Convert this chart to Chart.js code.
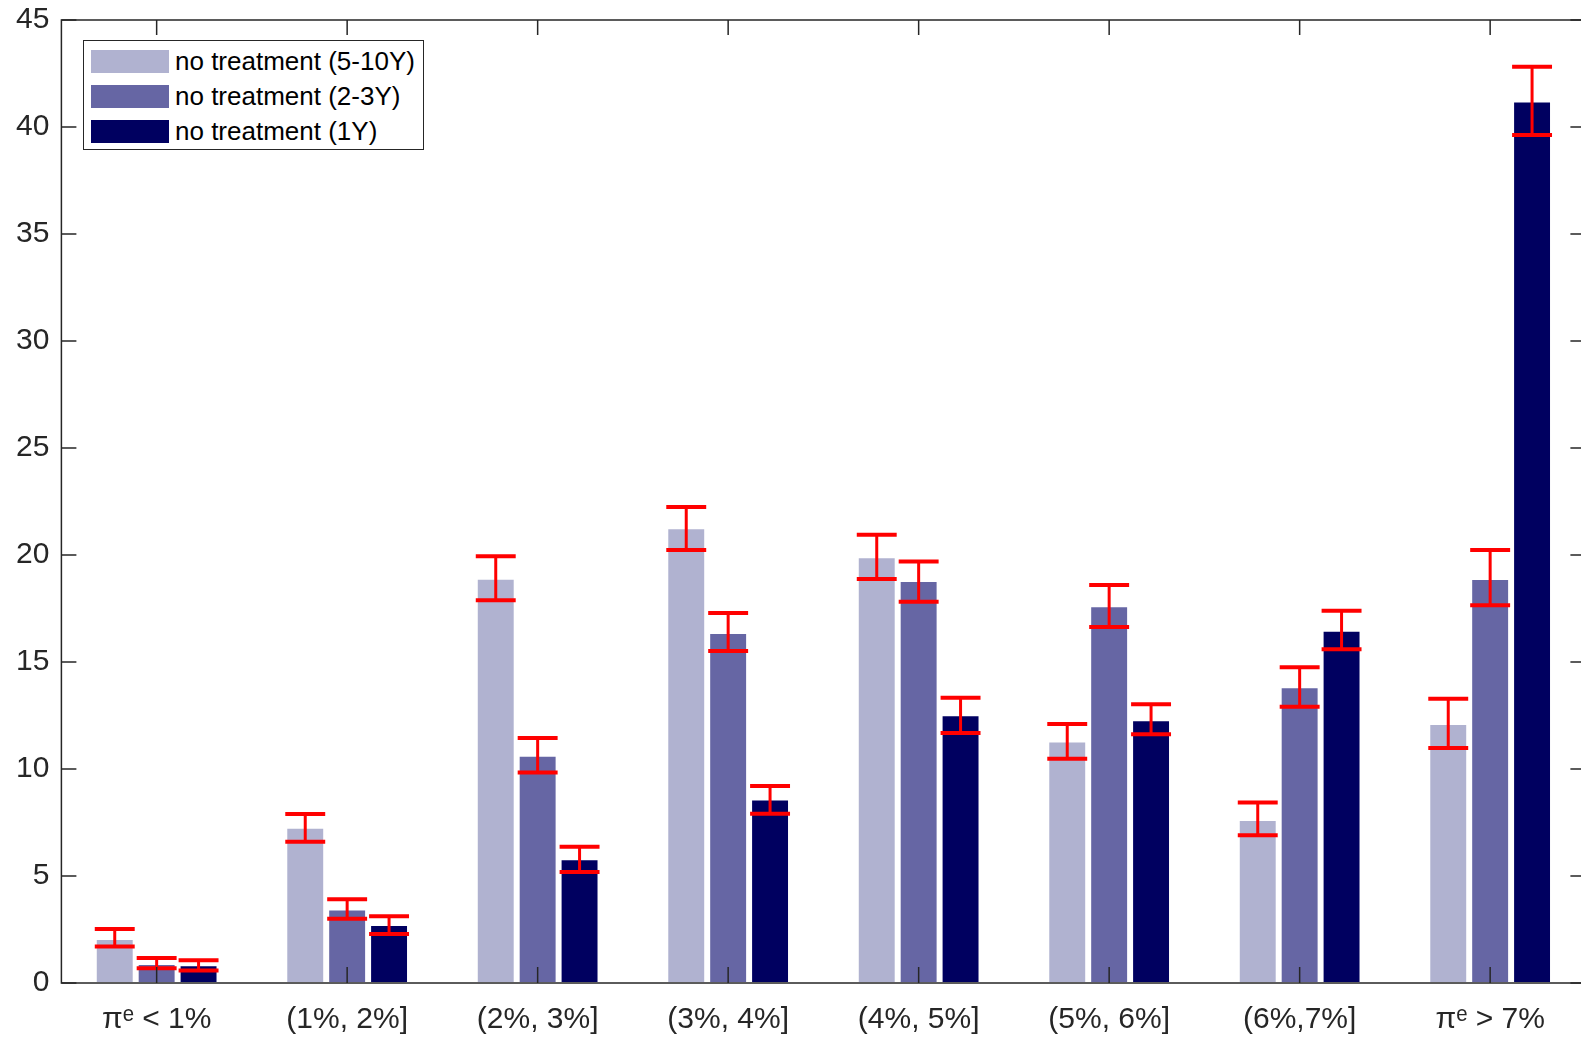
<!DOCTYPE html>
<html lang="en">
<head>
    <meta charset="UTF-8">
    <title>No treatment – inflation expectations</title>
    <script src="https://cdn.jsdelivr.net/npm/chart.js"></script>
    <style>
        body {
            margin: 0;
            overflow: hidden;
            background: #fff;
            font-family: "Liberation Sans", Arial, sans-serif;
        }
        #wrap {
            position: relative;
            width: 1600px;
            height: 1041px;
        }
        #legend {
            position: absolute;
            left: 83px;
            top: 40px;
            width: 341px;
            height: 110px;
            border: 1px solid #262626;
            background: #fff;
            box-sizing: border-box;
        }
        .row {
            position: absolute;
            left: 7px;
            height: 24px;
            display: flex;
            align-items: center;
            font-size: 26px;
            color: #000;
            white-space: nowrap;
        }
        .swatch {
            width: 78px;
            height: 23px;
            margin-right: 6px;
        }
    </style>
</head>
<body>
<div id="wrap">
    <canvas id="chart" width="1600" height="1041"></canvas>
    <div id="legend"></div>
</div>

<script>
    // categories (x axis)
    const categories = ['πᵉ < 1%', '(1%, 2%]', '(2%, 3%]', '(3%, 4%]', '(4%, 5%]', '(5%, 6%]', '(6%,7%]', 'πᵉ > 7%'];
    const yTicks = [0, 5, 10, 15, 20, 25, 30, 35, 40, 45];

    // series
    const seriesNames = ['no treatment (5-10Y)', 'no treatment (2-3Y)', 'no treatment (1Y)'];
    const seriesColors = ['#b0b2d0', '#6666a4', '#000060'];

    const long5to10 = [2.06, 7.26, 18.89, 21.25, 19.89, 11.28, 7.62, 12.10];
    const mid2to3   = [0.89, 3.43, 10.62, 16.36, 18.79, 17.60, 13.82, 18.88];
    const short1y   = [0.83, 2.71, 5.78, 8.57, 12.51, 12.28, 16.46, 41.19];

    // error bar ends
    const long5to10Low  = [1.70, 6.60, 17.88, 20.23, 18.88, 10.48, 6.90, 10.98];
    const long5to10High = [2.52, 7.90, 19.94, 22.24, 20.95, 12.10, 8.43, 13.28];
    const mid2to3Low    = [0.69, 3.00, 9.84, 15.51, 17.82, 16.64, 12.91, 17.65];
    const mid2to3High   = [1.17, 3.91, 11.45, 17.29, 19.70, 18.60, 14.75, 20.23];
    const short1yLow    = [0.58, 2.29, 5.19, 7.91, 11.68, 11.62, 15.59, 39.63];
    const short1yHigh   = [1.06, 3.12, 6.37, 9.21, 13.33, 13.02, 17.40, 42.82];

    const values = [long5to10, mid2to3, short1y];
    const lows = [long5to10Low, mid2to3Low, short1yLow];
    const highs = [long5to10High, mid2to3High, short1yHigh];

    const axisColor = '#262626';

    // red error bars plus the MATLAB-style box with inward ticks
    const errorAndBox = {
        id: 'errorAndBox',
        afterDatasetsDraw(chart) {
            const ctx = chart.ctx;
            const a = chart.chartArea;
            const x = chart.scales.x, y = chart.scales.y;
            ctx.save();
            ctx.strokeStyle = '#ff0000';
            chart.data.datasets.forEach((ds, di) => {
                chart.getDatasetMeta(di).data.forEach((bar, i) => {
                    const lo = y.getPixelForValue(ds.errLow[i]);
                    const hi = y.getPixelForValue(ds.errHigh[i]);
                    const half = bar.width / 2 + 1;
                    ctx.lineWidth = 3;
                    ctx.beginPath();
                    ctx.moveTo(bar.x, lo);
                    ctx.lineTo(bar.x, hi);
                    ctx.stroke();
                    ctx.lineWidth = 4;
                    ctx.beginPath();
                    ctx.moveTo(bar.x - half, lo); ctx.lineTo(bar.x + half, lo);
                    ctx.moveTo(bar.x - half, hi); ctx.lineTo(bar.x + half, hi);
                    ctx.stroke();
                });
            });

            ctx.strokeStyle = axisColor;
            ctx.lineWidth = 1.5;
            ctx.strokeRect(a.left, a.top, a.right - a.left, a.bottom - a.top);
            ctx.beginPath();
            categories.forEach((c, i) => {
                const px = x.getPixelForValue(i);
                ctx.moveTo(px, a.bottom); ctx.lineTo(px, a.bottom - 16);
                ctx.moveTo(px, a.top); ctx.lineTo(px, a.top + 15);
            });
            yTicks.forEach(v => {
                const py = y.getPixelForValue(v);
                ctx.moveTo(a.left, py); ctx.lineTo(a.left + 15, py);
                ctx.moveTo(a.right, py); ctx.lineTo(a.right - 15, py);
            });
            ctx.stroke();
            ctx.restore();
        }
    };

    const datasets = values.map((v, i) => ({
        label: seriesNames[i],
        data: v,
        errLow: lows[i],
        errHigh: highs[i],
        backgroundColor: seriesColors[i],
        borderColor: 'rgba(255,255,255,0.45)',
        borderWidth: 1,
        borderSkipped: false,
        categoryPercentage: 0.66,
        barPercentage: 0.905
    }));

    const tickFont = { family: '"Liberation Sans", Arial, sans-serif', size: 30 };

    // fixed axis sizes so the plot box sits where the reference has it
    function fixX(s) {
        s.height = 58;
        s.paddingLeft = 0;
        s.paddingRight = 0;
    }
    function fixY(s) {
        s.width = 61.4;
        s.paddingTop = 0;
        s.paddingBottom = 0;
    }

    new Chart(document.getElementById('chart'), {
        type: 'bar',
        data: { labels: categories, datasets: datasets },
        options: {
            responsive: false,
            animation: false,
            devicePixelRatio: 1,
            layout: { padding: { top: 20, right: 14.6, left: 0, bottom: 0 } },
            plugins: {
                legend: { display: false },
                tooltip: { enabled: false }
            },
            scales: {
                x: {
                    grid: { display: false, drawTicks: false },
                    border: { display: false },
                    ticks: { font: tickFont, color: axisColor, padding: 19, maxRotation: 0 },
                    afterFit: fixX
                },
                y: {
                    min: 0,
                    max: 45,
                    grid: { display: false, drawTicks: false },
                    border: { display: false },
                    ticks: { stepSize: 5, font: tickFont, color: axisColor, padding: 12 },
                    afterFit: fixY
                }
            }
        },
        plugins: [errorAndBox]
    });

    // legend box built from the series arrays
    const legend = document.getElementById('legend');
    seriesNames.forEach((name, i) => {
        const row = document.createElement('div');
        row.className = 'row';
        row.style.top = (8 + i * 35) + 'px';
        const sw = document.createElement('span');
        sw.className = 'swatch';
        sw.style.background = seriesColors[i];
        const txt = document.createElement('span');
        txt.textContent = name;
        row.appendChild(sw);
        row.appendChild(txt);
        legend.appendChild(row);
    });
</script>
</body>
</html>
